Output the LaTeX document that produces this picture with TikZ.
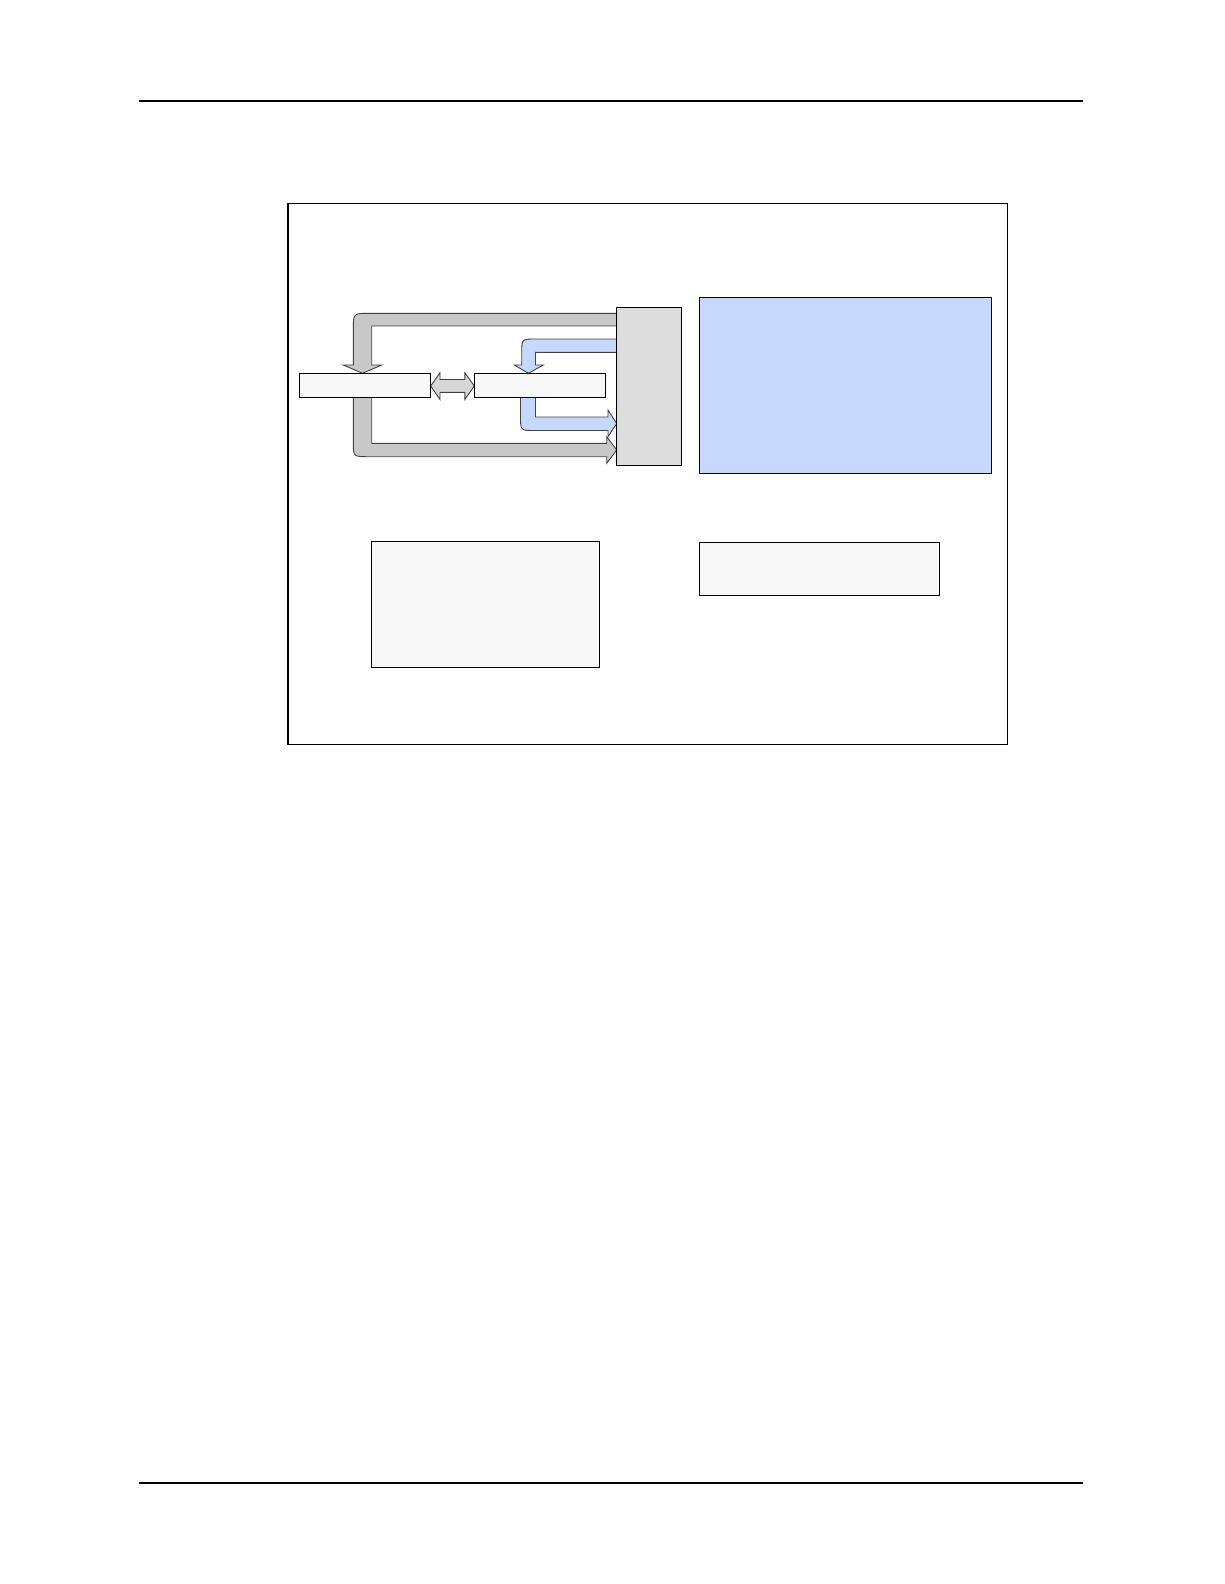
\documentclass[tikz,border=0pt]{standalone}
\begin{document}
\begin{tikzpicture}[x=1pt,y=-1pt,
  box/.style={draw=black,line width=1pt,inner sep=0pt,outer sep=0pt,anchor=north west},
  blockarrow/.style={draw=black!75,line width=0.9pt,line join=miter},
]
\definecolor{paleblue}{HTML}{C6D9FC}
\definecolor{arrowgray}{HTML}{C8C8C8}
\definecolor{boxgray}{HTML}{DDDDDD}
\definecolor{dblgray}{HTML}{D6D6D6}
\definecolor{barfill}{HTML}{F8F8F8}
\useasboundingbox[fill=white] (0,0) rectangle (1224,1584);

% page rules
\coordinate (tl) at (139.4,101);
\coordinate (tr) at (1083,101);
\coordinate (bl) at (139.4,1483);
\coordinate (br) at (1083,1483);
\draw[line width=1.3pt] (tl) -- (tr);
\draw[line width=1.8pt] (bl) -- (br);

% outer frame
\node[box,line width=1.3pt,minimum width=719.7pt,minimum height=541.2pt] (frame) at (288,203.3) {};

% top gray arrow (gray box -> left bar)
\draw[blockarrow,fill=arrowgray] (616.7,313.3) -- (369.3,313.3) .. controls (353.3,313.3) .. (353.3,329.3)
  -- (353.3,365) -- (343.3,365) -- (362.5,373.3) -- (381.7,365) -- (371.7,365) -- (371.7,326) -- (616.7,326) -- cycle;
% bottom gray arrow (left bar -> gray box)
\draw[blockarrow,fill=arrowgray] (353.3,397.3) -- (353.3,441.7) .. controls (353.3,456.7) .. (368.3,456.7)
  -- (606.7,456.7) -- (606.7,463.3) -- (616.7,450) -- (606.7,436.7) -- (606.7,443.3) -- (371.7,443.3) -- (371.7,397.3) -- cycle;
% top blue arrow (gray box -> right bar)
\draw[blockarrow,fill=paleblue] (616.7,339) -- (535.7,339) .. controls (521.7,339) .. (521.7,353)
  -- (521.7,365) -- (514.3,365) -- (528.5,373.3) -- (543.3,365) -- (535.5,365) -- (535.5,352.3) -- (616.7,352.3) -- cycle;
% bottom blue arrow (right bar -> gray box)
\draw[blockarrow,fill=paleblue] (520.5,397.3) -- (520.5,416.5) .. controls (520.5,430.5) .. (534.5,430.5)
  -- (608,430.5) -- (608,436.7) -- (616.7,423.5) -- (608,410) -- (608,417) -- (535.5,417) -- (535.5,397.3) -- cycle;
% double arrow between bars
\draw[blockarrow,fill=dblgray] (430.7,386) -- (440,372.7) -- (440,379.5) -- (464.8,379.5) -- (464.8,372.7)
  -- (474.3,386) -- (464.8,399.5) -- (464.8,392.3) -- (440,392.3) -- (440,399.5) -- cycle;

% boxes
\node[box,fill=barfill,minimum width=131.7pt,minimum height=24pt] (lbar) at (299,373.3) {};
\node[box,fill=barfill,minimum width=131.4pt,minimum height=24pt] (rbar) at (474.3,373.3) {};
\node[box,fill=boxgray,minimum width=65pt,minimum height=157.7pt] (gbox) at (616.7,307.3) {};
\node[box,fill=paleblue,minimum width=292.1pt,minimum height=176pt] (bbox) at (699.6,297) {};
\node[box,fill=barfill,minimum width=228.1pt,minimum height=125.5pt] (blbox) at (371.5,541.5) {};
\node[box,fill=barfill,minimum width=240.2pt,minimum height=52.5pt] (brbox) at (699.6,542.5) {};
\end{tikzpicture}
\end{document}
